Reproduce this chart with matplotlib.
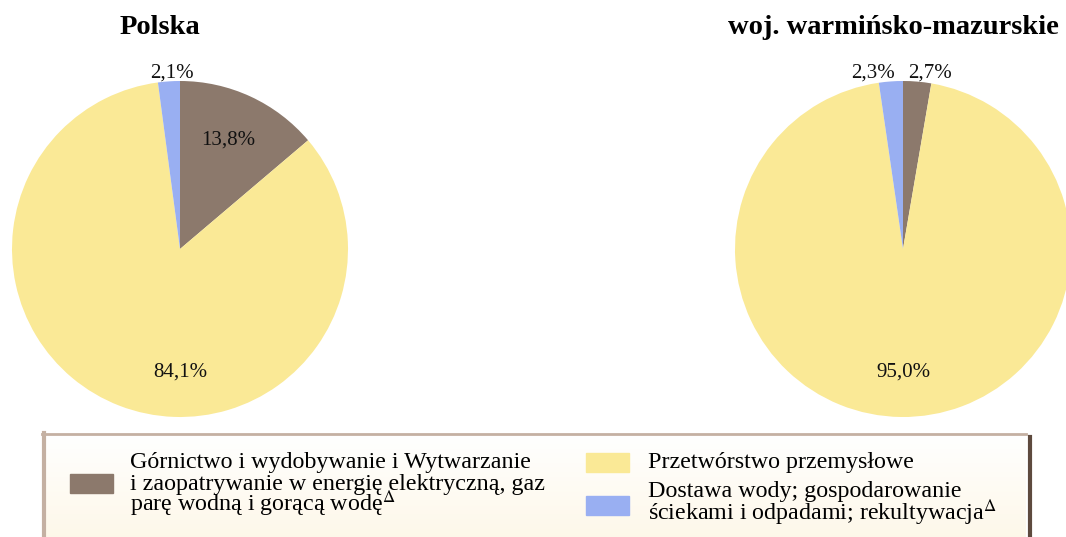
import numpy as np
import matplotlib.pyplot as plt
from matplotlib.patches import Rectangle

plt.rcParams['font.family'] = ['Liberation Serif', 'DejaVu Serif']
plt.rcParams['mathtext.fontset'] = 'stix'

# Udział sekcji w produkcji sprzedanej przemysłu (%)
sections = [["Górnictwo i wydobywanie i Wytwarzanie",
             "i zaopatrywanie w energię elektryczną, gaz",
             "parę wodną i gorącą wodę$^{\\Delta}$"],
            ["Przetwórstwo przemysłowe"],
            ["Dostawa wody; gospodarowanie",
             "ściekami i odpadami; rekultywacja$^{\\Delta}$"]]
polska = [13.8, 84.1, 2.1]
warminsko = [2.7, 95.0, 2.3]
titles = ["Polska", "woj. warmińsko-mazurskie"]
colors = ["#8c796c", "#fae996", "#99aff2"]

# label placement in pie units (x, y) for each slice
polska_lbl = [(0.29, 0.65), (0.0, -0.735), (-0.05, 1.045)]
warm_lbl = [(0.16, 1.045), (0.0, -0.735), (-0.18, 1.045)]

W, H = 1066, 537
fig = plt.figure(figsize=(W / 100, H / 100), dpi=100)

def pie_axes(cx, cy, r):
    return fig.add_axes([(cx - r) / W, (H - cy - r) / H, 2 * r / W, 2 * r / H])

def fmt(v):
    return f"{v:.1f}%".replace(".", ",")

for (cx, title_x), vals, lbls, title in zip([(180, 160), (903, 893)],
                                            [polska, warminsko],
                                            [polska_lbl, warm_lbl], titles):
    ax = pie_axes(cx, 249, 168)
    ax.pie(vals, colors=colors, startangle=90, counterclock=False,
           wedgeprops=dict(linewidth=0), radius=1)
    ax.set_xlim(-1, 1)
    ax.set_ylim(-1, 1)
    ax.set_aspect('auto')
    ax.axis('off')
    for v, (lx, ly) in zip(vals, lbls):
        ax.text(lx, ly, fmt(v), ha='center', va='center', fontsize=15, color='#111111')
    fig.text(title_x / W, 1 - 34 / H, title, ha='center', va='baseline',
             fontsize=20.5, fontweight='bold')

# legend panel with soft gradient background
lg = fig.add_axes([0, 0, 1, 1], zorder=-1)
lg.axis('off')
grad = np.linspace(0, 1, 100).reshape(-1, 1)
top = np.array([1.0, 1.0, 1.0])
bot = np.array([0.995, 0.972, 0.915])
img = (top + (bot - top) * grad[..., None]).reshape(100, 1, 3)
lg.imshow(img, extent=[43, 1026, 537, 434], aspect='auto', zorder=0)
lg.plot([42, 1026], [433.5, 433.5], color='#c4b0a2', lw=2, zorder=1)
lg.plot([43.5, 43.5], [433, 537], color='#c4b0a2', lw=3, zorder=1)
lg.plot([1030, 1030], [437, 537], color='#5e4a3e', lw=3, zorder=1)
lg.set_xlim(0, W)
lg.set_ylim(H, 0)

# legend swatches and entries, one text per line
swatches = [(70, 474), (586, 453), (586, 496)]
text_x = [130, 648, 648]
baselines = [[468, 490, 511], [468], [497, 520]]
for col, (sx, sy), tx, lines, ys in zip(colors, swatches, text_x, sections, baselines):
    fig.patches.append(Rectangle((sx / W, 1 - (sy + 19) / H), 43 / W, 19 / H,
                                 transform=fig.transFigure, color=col))
    for line, y in zip(lines, ys):
        fig.text(tx / W, 1 - y / H, line, ha='left', va='baseline', fontsize=17.3)

fig.savefig("out.png", dpi=100)
